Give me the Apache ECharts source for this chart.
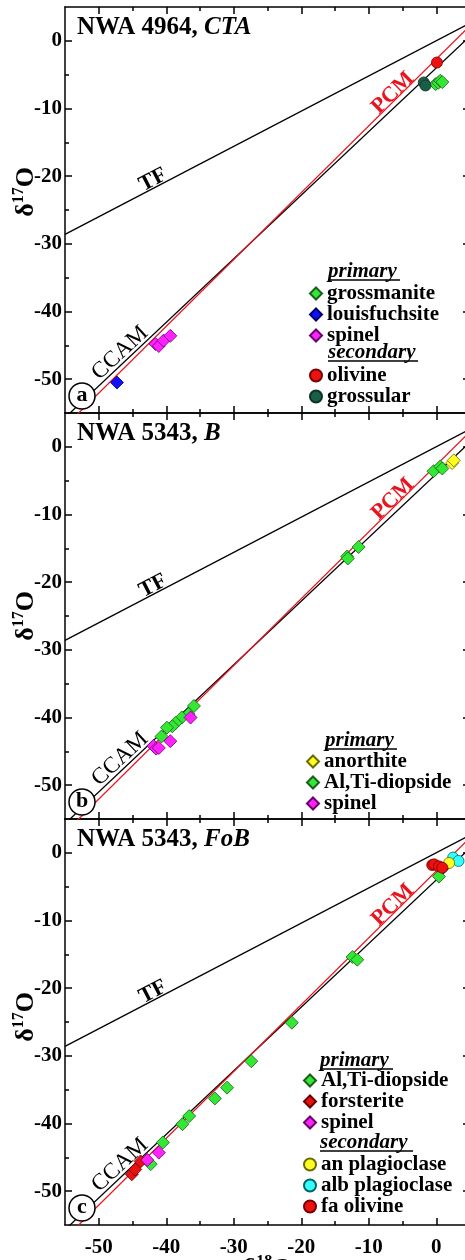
<!DOCTYPE html>
<html>
<head>
<meta charset="utf-8">
<script src="https://cdn.jsdelivr.net/npm/echarts@6/dist/echarts.min.js"></script>
<style>
  html, body { margin: 0; padding: 0; background: #fff; overflow: hidden; }
  #main { width: 465px; height: 1260px; }
</style>
</head>
<body>
<div id="main"></div>
<script>
// tick values (delta notation, permil)
const majorTicks = [-50, -40, -30, -20, -10, 0];
const minorTicks = [-45, -35, -25, -15, -5];

// reference lines, end points at the axis limits
const tfLine = [[-55, -28.6], [5, 2.6]];
const ccamLine = [[-55, -55.7], [5, 0.7]];
const pcmLine = [[-55, -57.0], [5, 2.24]];

// (a) NWA 4964, CTA
const aGrossmanite = [[-0.1, -6.4], [0.3, -6.2], [0.6, -5.9], [0.9, -6.1]];
const aLouisfuchsite = [[-47.3, -50.5]];
const aSpinel = [[-41.6, -44.8], [-41.1, -45.1], [-40.4, -44.3], [-39.4, -43.6]];
const aOlivine = [[0.1, -3.2]];
const aGrossular = [[-1.85, -6.15], [-1.6, -6.6]];

// (b) NWA 5343, B
const bAnorthite = [[2.35, -2.4], [2.6, -2.0]];
const bDiopside = [[-0.4, -3.6], [0.6, -2.9], [0.9, -3.2], [-13.2, -16.2], [-13.1, -16.5],
  [-11.5, -14.8], [-35.9, -38.3], [-36.7, -39.5], [-37.7, -40.0], [-38.6, -40.8],
  [-39.1, -41.3], [-39.9, -41.5], [-40.7, -42.8]];
const bSpinel = [[-36.4, -40.0], [-39.4, -43.5], [-41.9, -44.2], [-41.5, -44.6], [-41.1, -44.5]];

// (c) NWA 5343, FoB
const cDiopside = [[0.4, -3.5], [-12.4, -15.4], [-11.7, -15.8], [-21.4, -25.1], [-27.4, -30.8],
  [-31.0, -34.7], [-32.8, -36.3], [-36.6, -38.9], [-37.6, -40.1], [-40.5, -42.8], [-42.3, -46.0]];
const cForsterite = [[-45.1, -47.5], [-44.6, -46.8], [-43.8, -45.6]];
const cSpinel = [[-42.8, -45.4], [-41.1, -44.3]];
const cAlbPlag = [[2.5, -0.7], [3.3, -1.2]];
const cAnPlag = [[1.9, -1.5]];
const cFaOlivine = [[-0.6, -1.8], [-0.3, -1.7], [0.4, -2.0], [0.9, -2.2]];

const panelTitles = ['NWA 4964, ', 'NWA 5343, ', 'NWA 5343, '];
const panelItalic = ['CTA', 'B', 'FoB'];
const panelLetters = ['a', 'b', 'c'];
const gridTops = [7, 413, 819];

const FONT = 'Liberation Serif';
const chart = echarts.init(document.getElementById('main'));

const tickStyle = { color: '#000', width: 1.5 };
const nameRich = {
  d: { fontFamily: FONT, fontWeight: 'bold', fontSize: 26, color: '#000', lineHeight: 28, verticalAlign: 'bottom' },
  s: { fontFamily: FONT, fontWeight: 'bold', fontSize: 16, color: '#000', lineHeight: 28, verticalAlign: 'top' }
};

function xAxes(g, last) {
  const base = { gridIndex: g, type: 'value', min: -55, max: 5, interval: 5, splitLine: { show: false } };
  const line = { show: true, onZero: false, lineStyle: { color: '#000', width: 1.5 } };
  return [
    Object.assign({}, base, {
      position: 'bottom', axisLine: line,
      axisTick: { inside: true, length: 7, customValues: majorTicks, lineStyle: tickStyle },
      axisLabel: { show: last, customValues: majorTicks, margin: 12, color: '#000',
        fontFamily: FONT, fontWeight: 'bold', fontSize: 21 },
      name: last ? '{d|δ}{s|18}{d|O}' : '', nameLocation: 'middle', nameGap: 29,
      nameMoveOverlap: false,
      nameTextStyle: { rich: nameRich }
    }),
    Object.assign({}, base, {
      position: 'bottom', axisLine: { show: false, onZero: false },
      axisTick: { inside: true, length: 4, customValues: minorTicks, lineStyle: tickStyle },
      axisLabel: { show: false }
    }),
    Object.assign({}, base, {
      position: 'top', axisLine: line,
      axisTick: { inside: true, length: 7, customValues: majorTicks, lineStyle: tickStyle },
      axisLabel: { show: false }
    }),
    Object.assign({}, base, {
      position: 'top', axisLine: { show: false, onZero: false },
      axisTick: { inside: true, length: 4, customValues: minorTicks, lineStyle: tickStyle },
      axisLabel: { show: false }
    })
  ];
}

function yAxes(g) {
  const base = { gridIndex: g, type: 'value', min: -55, max: 5, interval: 5, splitLine: { show: false } };
  const line = { show: true, onZero: false, lineStyle: { color: '#000', width: 1.5 } };
  const shift = g === 0 ? [0, 0, 0, 36] : (g === 2 ? [0, 0, 0, 10] : 0);
  return [
    Object.assign({}, base, {
      position: 'left', axisLine: line,
      axisTick: { inside: true, length: 7, customValues: majorTicks, lineStyle: tickStyle },
      axisLabel: { customValues: majorTicks, margin: 3, color: '#000',
        fontFamily: FONT, fontWeight: 'bold', fontSize: 21 },
      name: '{d|δ}{s|17}{d|O}', nameLocation: 'middle', nameGap: 26,
      nameMoveOverlap: false,
      nameTextStyle: { padding: shift, rich: nameRich }
    }),
    Object.assign({}, base, {
      position: 'left', axisLine: { show: false, onZero: false },
      axisTick: { inside: true, length: 4, customValues: minorTicks, lineStyle: tickStyle },
      axisLabel: { show: false }
    }),
    Object.assign({}, base, {
      position: 'right', axisLine: line,
      axisTick: { inside: true, length: 7, customValues: majorTicks, lineStyle: tickStyle },
      axisLabel: { show: false }
    }),
    Object.assign({}, base, {
      position: 'right', axisLine: { show: false, onZero: false },
      axisTick: { inside: true, length: 4, customValues: minorTicks, lineStyle: tickStyle },
      axisLabel: { show: false }
    })
  ];
}

function refLine(g, name, data, color) {
  return {
    name: name + g, type: 'line', data: data, xAxisIndex: 4 * g, yAxisIndex: 4 * g,
    symbol: 'none', silent: true, z: 1, clip: true,
    lineStyle: { color: color, width: 1.3 }
  };
}

function pts(g, name, data, symbol, color, border) {
  return {
    name: name, type: 'scatter', data: data, xAxisIndex: 4 * g, yAxisIndex: 4 * g,
    symbol: symbol, symbolSize: symbol === 'diamond' ? 13 : 11, z: 3,
    itemStyle: { color: color, borderColor: border, borderWidth: 0.8, opacity: 1 }
  };
}

const GREEN = '#33e833', GREEN_B = '#1b5e1b';
const MAG = '#ff22ff', MAG_B = '#6b006b';

const series = [];
for (let g = 0; g < 3; g++) {
  series.push(refLine(g, 'TF', tfLine, '#000'));
  series.push(refLine(g, 'CCAM', ccamLine, '#000'));
  series.push(refLine(g, 'PCM', pcmLine, '#e8141e'));
}
series.push(
  pts(0, 'grossmanite', aGrossmanite, 'diamond', GREEN, GREEN_B),
  pts(0, 'louisfuchsite', aLouisfuchsite, 'diamond', '#1010ff', '#00006b'),
  pts(0, 'spinel', aSpinel, 'diamond', MAG, MAG_B),
  pts(0, 'olivine', aOlivine, 'circle', '#ee1111', '#700'),
  pts(0, 'grossular', aGrossular, 'circle', '#1b5e47', '#0b3325'),
  pts(1, 'Al,Ti-diopside', bDiopside, 'diamond', GREEN, GREEN_B),
  pts(1, 'spinel', bSpinel, 'diamond', MAG, MAG_B),
  pts(1, 'anorthite', bAnorthite, 'diamond', '#ffff22', '#6b6b00'),
  pts(2, 'Al,Ti-diopside', cDiopside, 'diamond', GREEN, GREEN_B),
  pts(2, 'forsterite', cForsterite, 'diamond', '#e81111', '#6b0000'),
  pts(2, 'spinel', cSpinel, 'diamond', MAG, MAG_B),
  pts(2, 'alb plagioclase', cAlbPlag, 'circle', '#33ffff', '#066'),
  pts(2, 'an plagioclase', cAnPlag, 'circle', '#ffff22', '#6b6b00'),
  pts(2, 'fa olivine', cFaOlivine, 'circle', '#ee1111', '#700')
);

const legendText = { fontFamily: FONT, fontWeight: 'bold', fontSize: 21, color: '#000', lineHeight: 21 };
function legendAt(names, left, top) {
  return {
    data: names, left: left, top: top, orient: 'vertical', padding: 0, itemGap: 0,
    itemWidth: 12, itemHeight: 12, selectedMode: false, textStyle: legendText
  };
}

const graphic = [];
function txt(x, y, text, opts) {
  graphic.push(Object.assign({ type: 'text', x: x, y: y, z: 50,
    style: Object.assign({ text: text, fontFamily: FONT, fontWeight: 'bold', fontSize: 21,
      fill: '#000', align: 'center', verticalAlign: 'middle' }, opts.style || {}) },
    opts.rotation !== undefined ? { rotation: opts.rotation } : {}));
}
function header(x, y, text, len) {
  txt(x, y, text, { style: { align: 'left', fontStyle: 'italic' } });
  graphic.push({ type: 'line', z: 50, shape: { x1: x, y1: y + 8, x2: x + len, y2: y + 8 },
    style: { stroke: '#000', lineWidth: 1.3 } });
}

for (let g = 0; g < 3; g++) {
  const T = gridTops[g];
  txt(77, T + 21, '{n|' + panelTitles[g] + '}{i|' + panelItalic[g] + '}', { style: {
    align: 'left', rich: {
      n: { fontFamily: FONT, fontWeight: 'bold', fontSize: 25, color: '#000' },
      i: { fontFamily: FONT, fontWeight: 'bold', fontStyle: 'italic', fontSize: 25, color: '#000' } } } });
  txt(153, T + 173, 'TF', { rotation: 27.5 * Math.PI / 180, style: { fontSize: 22 } });
  txt(393, T + 86, 'PCM', { rotation: 44.5 * Math.PI / 180, style: { fill: '#e8141e', fontSize: 22 } });
  txt(120, T + 346, 'CCAM', { rotation: 43 * Math.PI / 180, style: { fontWeight: 'normal', fontSize: 23 } });
  graphic.push({ type: 'circle', z: 40, shape: { cx: 82, cy: T + 389, r: 13 },
    style: { fill: '#fff', stroke: '#000', lineWidth: 1.5 } });
  txt(82, T + 388, panelLetters[g], { style: { fontSize: 22 } });
}
header(328, 272, 'primary', 72);
header(328, 353, 'secondary', 90);
header(325, 741, 'primary', 72);
header(320, 1061, 'primary', 73);
header(320, 1143, 'secondary', 93);

const option = {
  animation: false,
  backgroundColor: '#fff',
  grid: gridTops.map(t => ({ left: 65, top: t, width: 405, height: 406, outerBoundsMode: 'none',
    show: false })),
  xAxis: [].concat(xAxes(0, false), xAxes(1, false), xAxes(2, true)),
  yAxis: [].concat(yAxes(0), yAxes(1), yAxes(2)),
  legend: [
    legendAt(['grossmanite', 'louisfuchsite', 'spinel'], 309, 283),
    legendAt(['olivine', 'grossular'], 309, 365),
    legendAt(['anorthite', 'Al,Ti-diopside', 'spinel'], 306, 751),
    legendAt(['Al,Ti-diopside', 'forsterite', 'spinel'], 303, 1070),
    legendAt(['an plagioclase', 'alb plagioclase', 'fa olivine'], 303, 1154)
  ],
  graphic: graphic,
  series: series
};
chart.setOption(option);
</script>
</body>
</html>
